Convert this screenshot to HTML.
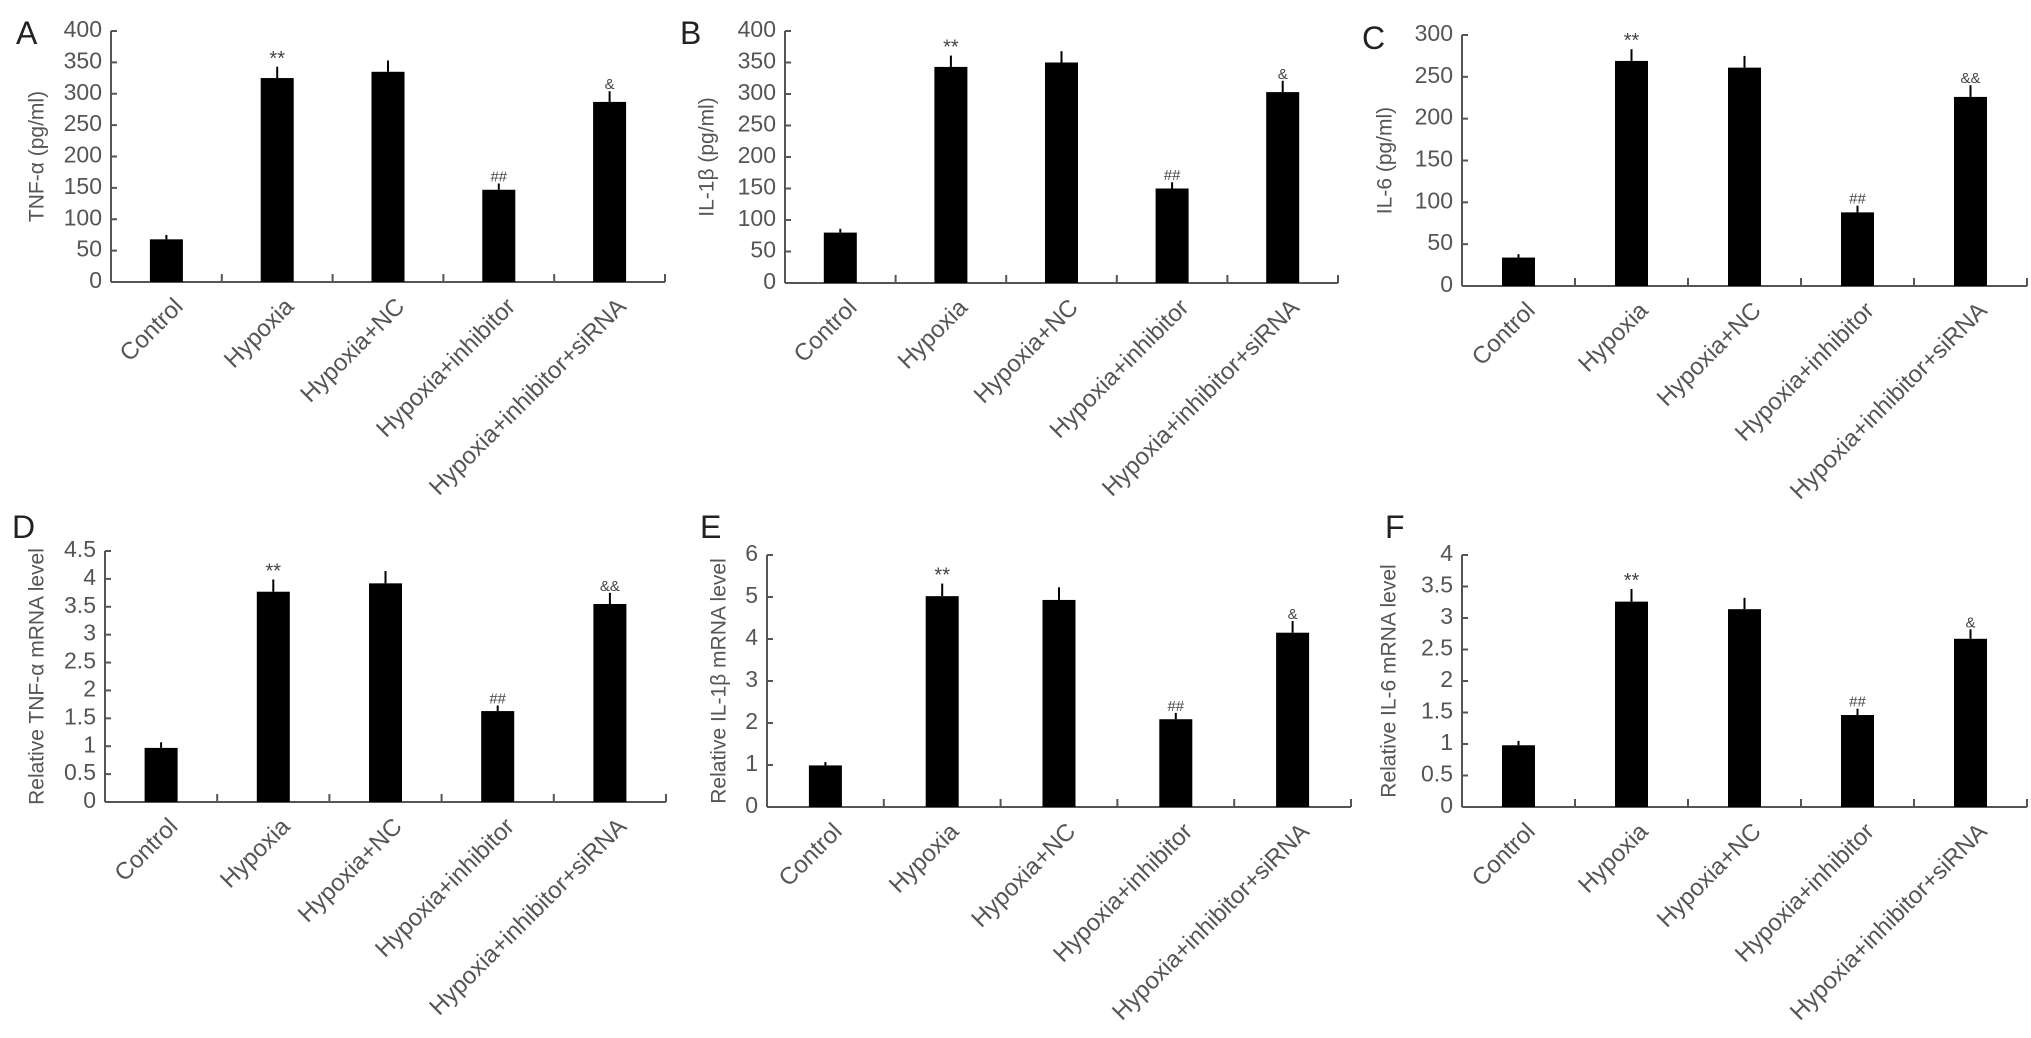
<!DOCTYPE html>
<html><head><meta charset="utf-8"><style>
html,body{margin:0;padding:0;background:#fff;}
svg{display:block;font-family:"Liberation Sans",sans-serif;}
</style></head><body>
<svg id="fig" width="2031" height="1038" viewBox="0 0 2031 1038" xmlns="http://www.w3.org/2000/svg"></svg>
<script>
const categories = ["Control","Hypoxia","Hypoxia+NC","Hypoxia+inhibitor","Hypoxia+inhibitor+siRNA"];
const valuesA = [68,325,335,147,287];
const errorsA = [7,18,18,10,17];
const valuesB = [80,343,350,150,303];
const errorsB = [6,18,18,10,18];
const valuesC = [34,269,261,88,226];
const errorsC = [4,14,14,8,14];
const valuesD = [0.97,3.77,3.92,1.63,3.55];
const errorsD = [0.1,0.22,0.22,0.1,0.2];
const valuesE = [0.99,5.02,4.93,2.09,4.15];
const errorsE = [0.08,0.3,0.3,0.15,0.28];
const valuesF = [0.98,3.26,3.14,1.46,2.67];
const errorsF = [0.07,0.2,0.18,0.1,0.15];
const ticksA = ["0","50","100","150","200","250","300","350","400"];
const ticksB = ["0","50","100","150","200","250","300","350","400"];
const ticksC = ["0","50","100","150","200","250","300"];
const ticksD = ["0","0.5","1","1.5","2","2.5","3","3.5","4","4.5"];
const ticksE = ["0","1","2","3","4","5","6"];
const ticksF = ["0","0.5","1","1.5","2","2.5","3","3.5","4"];
const annotA = ["","**","","##","&"];
const annotB = ["","**","","##","&"];
const annotC = ["","**","","##","&&"];
const annotD = ["","**","","##","&&"];
const annotE = ["","**","","##","&"];
const annotF = ["","**","","##","&"];

const NS="http://www.w3.org/2000/svg";
const svg=document.getElementById('fig');
function mk(tag,attrs,parent){const e=document.createElementNS(NS,tag);for(const k in attrs)e.setAttribute(k,attrs[k]);(parent||svg).appendChild(e);return e;}

const panels=[
 {id:'a',letter:'A',lx:16,ly:44,x0:111,x1:665,yTop:31,yBot:282,max:400,ticks:ticksA,vals:valuesA,errs:errorsA,ann:annotA,title:'TNF-α (pg/ml)',tx:38},
 {id:'b',letter:'B',lx:680,ly:44,x0:785,x1:1338,yTop:31,yBot:283,max:400,ticks:ticksB,vals:valuesB,errs:errorsB,ann:annotB,title:'IL-1β (pg/ml)',tx:708},
 {id:'c',letter:'C',lx:1362,ly:49,x0:1462,x1:2027,yTop:35,yBot:286,max:300,ticks:ticksC,vals:valuesC,errs:errorsC,ann:annotC,title:'IL-6 (pg/ml)',tx:1386},
 {id:'d',letter:'D',lx:12,ly:538,x0:105,x1:666,yTop:551,yBot:802,max:4.5,ticks:ticksD,vals:valuesD,errs:errorsD,ann:annotD,title:'Relative TNF-α mRNA level',tx:38},
 {id:'e',letter:'E',lx:700,ly:538,x0:767,x1:1351,yTop:555,yBot:807,max:6,ticks:ticksE,vals:valuesE,errs:errorsE,ann:annotE,title:'Relative IL-1β mRNA level',tx:720},
 {id:'f',letter:'F',lx:1385,ly:538,x0:1462,x1:2027,yTop:555,yBot:807,max:4,ticks:ticksF,vals:valuesF,errs:errorsF,ann:annotF,title:'Relative IL-6 mRNA level',tx:1390}
];

panels.forEach(p=>{
 const g=mk('g',{});
 
 
 const yS=v=>p.yBot-(v/p.max)*(p.yBot-p.yTop);
 const slot=(p.x1-p.x0)/categories.length;
 const xC=i=>p.x0+slot*(i+0.5);
 const L=mk('text',{x:p.lx,y:p.ly,'font-size':32,fill:'#222'},g);L.textContent=p.letter;
 
 
 const cy=(p.yTop+p.yBot)/2;
 const T=mk('text',{x:p.tx,y:cy,'font-size':21,fill:'#555','text-anchor':'middle',transform:`rotate(-90 ${p.tx} ${cy})`,'dominant-baseline':'middle'},g);T.textContent=p.title;
 
 
 const ya=mk('line',{x1:p.x0,y1:p.yTop,x2:p.x0,y2:p.yBot,stroke:'#555','stroke-width':2},g);
 
 
 const xa=mk('line',{x1:p.x0,y1:p.yBot,x2:p.x1,y2:p.yBot,stroke:'#555','stroke-width':2},g);
 
 
 const step=p.max/(p.ticks.length-1);
 p.ticks.forEach((t,i)=>{
  const y=yS(i*step);
  mk('line',{x1:p.x0,y1:y,x2:p.x0+6,y2:y,stroke:'#555','stroke-width':2},g);
  const tl=mk('text',{x:p.x0-9,y:y,'font-size':23,fill:'#555','text-anchor':'end','dominant-baseline':'middle'},g);tl.textContent=t;
  
  
 });
 for(let i=1;i<=categories.length;i++){
  const x=p.x0+slot*i;
  mk('line',{x1:x,y1:p.yBot,x2:x,y2:p.yBot-8,stroke:'#555','stroke-width':2},g);
 }
 categories.forEach((c,i)=>{
  const x=xC(i),v=p.vals[i],e=p.errs[i];
  const er=mk('line',{x1:x,y1:yS(v),x2:x,y2:yS(v+e),stroke:'#000','stroke-width':2},g);
  
  
  const b=mk('rect',{x:x-16.5,y:yS(v),width:33,height:p.yBot-yS(v),fill:'#000'},g);
  
  
  if(p.ann[i]){
   const a=mk('text',{x:x,y:yS(v+e)-2,'font-size':p.ann[i]==='**'?20:15,fill:'#444','text-anchor':'middle'},g);a.textContent=p.ann[i];
   
   
  }
  const lx=x+6,ly=p.yBot+14;
  const cl=mk('text',{x:lx,y:ly,'font-size':24,fill:'#555','text-anchor':'end','dominant-baseline':'hanging',transform:`rotate(-45 ${lx} ${ly})`},g);cl.textContent=c;
  
  
 });
});
</script>
</body></html>
